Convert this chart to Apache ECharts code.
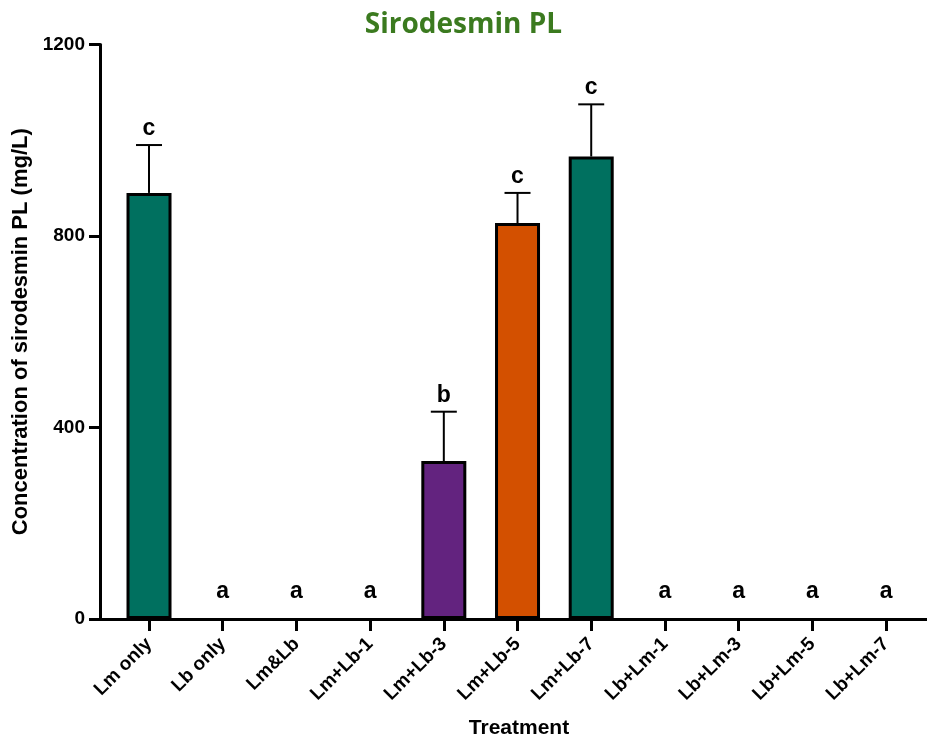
<!DOCTYPE html>
<html>
<head>
<meta charset="utf-8">
<script src="https://cdn.jsdelivr.net/npm/echarts@6/dist/echarts.min.js"></script>
<style>
html,body{margin:0;padding:0;background:#fff;}
#chart{width:927px;height:738px;}
</style>
</head>
<body>
<div id="chart"></div>
<script>
const categories = ['Lm only','Lb only','Lm&Lb','Lm+Lb-1','Lm+Lb-3','Lm+Lb-5','Lm+Lb-7','Lb+Lm-1','Lb+Lm-3','Lb+Lm-5','Lb+Lm-7'];
const means = [890, 0, 0, 0, 330, 827, 966, 0, 0, 0, 0];
const errors = [100, 0, 0, 0, 103, 63, 109, 0, 0, 0, 0];
const letters = ['c','a','a','a','b','c','c','a','a','a','a'];
const yTicks = [0, 400, 800, 1200];

const TEAL = '#00705f', PURPLE = '#63237f', ORANGE = '#d35000';
const barColors = [TEAL, TEAL, TEAL, TEAL, PURPLE, ORANGE, TEAL, TEAL, TEAL, TEAL, TEAL];
const FONT = '"Liberation Sans", Arial, sans-serif';

const idx = categories.map((c, i) => i);

const chart = echarts.init(document.getElementById('chart'), null, {renderer: 'canvas'});
chart.setOption({
  animation: false,
  backgroundColor: '#fff',
  title: {
    text: 'Sirodesmin PL',
    left: 'center',
    top: 6,
    textStyle: {fontFamily: '"Open Sans", sans-serif', fontWeight: 'bold', fontSize: 28, color: '#3b7a1f'}
  },
  grid: {left: 100, right: 0, top: 44.5, bottom: 119, containLabel: false},
  xAxis: {
    type: 'value',
    min: -0.665,
    max: 10.556,
    splitLine: {show: false},
    axisLine: {show: true, onZero: false, lineStyle: {color: '#000', width: 3}},
    axisTick: {show: true, customValues: idx, length: 12, lineStyle: {color: '#000', width: 3}},
    axisLabel: {
      customValues: idx,
      formatter: v => categories[Math.round(v)],
      rotate: 45,
      margin: 22,
      color: '#000',
      fontFamily: FONT,
      fontWeight: 'bold',
      fontSize: 19
    }
  },
  yAxis: {
    type: 'value',
    min: yTicks[0],
    max: yTicks[yTicks.length - 1],
    interval: 400,
    name: 'Concentration of sirodesmin PL (mg/L)',
    nameLocation: 'middle',
    nameGap: 63,
    nameTextStyle: {fontFamily: FONT, fontWeight: 'bold', fontSize: 22, color: '#000'},
    splitLine: {show: false},
    axisLine: {show: true, onZero: false, lineStyle: {color: '#000', width: 3}},
    axisTick: {show: true, length: 11, lineStyle: {color: '#000', width: 3}},
    axisLabel: {margin: 15, color: '#000', fontFamily: FONT, fontWeight: 'bold', fontSize: 19, formatter: v => String(v)}
  },
  graphic: [{
    type: 'text',
    x: 519,
    y: 728,
    style: {text: 'Treatment', font: 'bold 21px ' + FONT, fill: '#000', align: 'center', verticalAlign: 'middle'}
  }],
  series: [
    {
      type: 'bar',
      barWidth: 45,
      z: 2,
      data: means.map((v, i) => ({
        value: [i, v],
        itemStyle: {color: barColors[i], borderColor: '#000', borderWidth: v > 0 ? 3 : 0}
      }))
    },
    {
      type: 'custom',
      z: 3,
      data: means.map((v, i) => [i, v, errors[i]]),
      renderItem: function (params, api) {
        const i = api.value(0), m = api.value(1), e = api.value(2);
        const base = api.coord([i, m]);
        const top = api.coord([i, m + e]);
        const zero = api.coord([i, 0]);
        const children = [];
        if (e > 0) {
          children.push({type: 'line', shape: {x1: top[0], y1: top[1], x2: base[0], y2: base[1]}, style: {stroke: '#000', lineWidth: 2}});
          children.push({type: 'line', shape: {x1: top[0] - 13, y1: top[1], x2: top[0] + 13, y2: top[1]}, style: {stroke: '#000', lineWidth: 2}});
        }
        const ly = Math.min(top[1] - 5, zero[1] - 16);
        children.push({type: 'text', x: top[0], y: ly, style: {text: letters[i], font: 'bold 23px ' + FONT, fill: '#000', align: 'center', verticalAlign: 'bottom'}});
        return {type: 'group', children: children};
      }
    }
  ]
});
</script>
</body>
</html>
